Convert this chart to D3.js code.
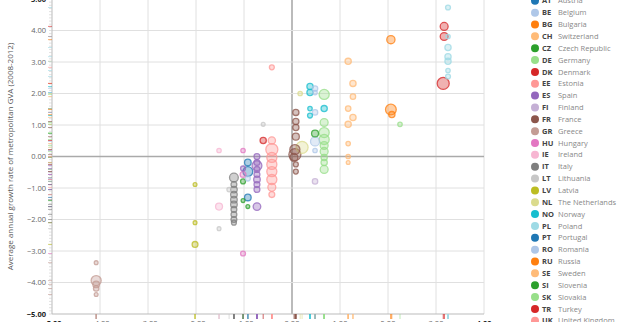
<!DOCTYPE html>
<html>
<head>
<meta charset="utf-8">
<script src="https://cdn.jsdelivr.net/npm/d3@7"></script>
<style>
  body { margin: 0; background: #fff; }
  text { font-family: "Open Sans", sans-serif; }
</style>
</head>
<body>
<div id="chart"></div>
<script>
// country codes, names (legend order)
var codes = ["AT","BE","BG","CH","CZ","DE","DK","EE","ES","FI","FR","GR","HU","IE",
  "IT","LT","LV","NL","NO","PL","PT","RO","RU","SE","SI","SK","TR","UK"];
var names = ["Austria","Belgium","Bulgaria","Switzerland","Czech Republic","Germany",
  "Denmark","Estonia","Spain","Finland","France","Greece","Hungary","Ireland","Italy",
  "Lithuania","Latvia","The Netherlands","Norway","Poland","Portugal","Romania","Russia",
  "Sweden","Slovenia","Slovakia","Turkey","United Kingdom"];

// x ticks / y ticks
var xTicks = [-5, -4, -3, -2, -1, 0, 1, 2, 3, 4];
var yTicks = [-5, -4, -3, -2, -1, 0, 1, 2, 3, 4, 5];

// metro regions: [country, x growth, GVA growth, population (m)]
var metros = [
  ["GR", -4.08, -3.37, 0.3], ["GR", -4.08, -3.94, 2.1], ["GR", -4.08, -4.06, 0.9],
  ["GR", -4.08, -4.19, 0.6], ["GR", -4.08, -4.38, 0.3],
  ["LV", -2.02, -0.89, 0.3], ["LV", -2.02, -2.10, 0.3], ["LV", -2.02, -2.79, 0.7],
  ["IE", -1.52, 0.19, 0.4], ["IE", -1.52, -1.59, 1.0], ["LT", -1.52, -2.29, 0.3],
  ["LT", -1.31, -1.05, 0.4], ["LT", -0.60, 1.02, 0.3],
  ["IT", -1.21, -0.67, 1.6], ["IT", -1.21, -0.89, 0.7], ["IT", -1.21, -1.05, 0.9],
  ["IT", -1.21, -1.21, 0.9], ["IT", -1.21, -1.37, 0.9], ["IT", -1.21, -1.52, 0.9],
  ["IT", -1.21, -1.68, 0.7], ["IT", -1.21, -1.84, 0.7], ["IT", -1.21, -2.00, 0.7],
  ["IT", -1.21, -2.10, 0.5],
  ["HU", -1.02, 0.19, 0.4], ["HU", -1.02, -0.57, 0.7], ["HU", -1.02, -3.08, 0.5],
  ["ES", -1.02, -0.38, 0.5],
  ["SI", -1.02, -0.79, 0.5], ["SI", -1.02, -1.40, 0.3], ["SI", -0.92, -1.59, 0.3],
  ["PT", -0.92, -0.19, 0.9], ["PT", -0.92, -0.48, 2.0], ["PT", -0.92, -1.30, 0.9],
  ["RO", -0.92, -0.70, 0.5],
  ["ES", -0.73, 0.00, 0.7], ["ES", -0.73, -0.19, 0.7], ["ES", -0.73, -0.29, 2.0],
  ["ES", -0.73, -0.41, 0.7], ["ES", -0.73, -0.57, 0.7], ["ES", -0.73, -0.73, 0.9],
  ["ES", -0.73, -0.89, 0.7], ["ES", -0.73, -1.05, 0.7], ["ES", -0.73, -1.59, 1.2],
  ["UK", -0.42, 2.83, 0.5], ["UK", -0.42, 0.51, 1.1], ["UK", -0.42, 0.22, 3.0],
  ["UK", -0.42, -0.03, 2.1], ["UK", -0.42, -0.25, 2.1], ["UK", -0.42, -0.48, 2.1],
  ["UK", -0.42, -0.73, 2.1], ["UK", -0.42, -0.98, 1.3], ["UK", -0.42, -1.21, 0.7],
  ["DK", -0.60, 0.51, 0.8],
  ["FR", 0.08, 1.40, 0.8], ["FR", 0.08, 1.11, 0.8], ["FR", 0.08, 0.92, 0.8],
  ["FR", 0.08, 0.63, 1.0], ["FR", 0.06, 0.22, 2.1], ["FR", 0.06, 0.06, 3.0],
  ["FR", 0.04, -0.03, 1.3], ["FR", 0.08, -0.25, 0.5], ["FR", 0.08, -0.48, 0.5],
  ["NL", 0.17, 2.00, 0.4], ["NL", 0.21, 0.29, 3.0],
  ["NO", 0.375, 2.22, 0.8], ["NO", 0.375, 2.03, 0.8], ["NO", 0.375, 1.52, 0.4],
  ["NO", 0.375, 1.30, 0.5], ["NO", 0.67, 1.52, 0.8],
  ["BE", 0.48, 2.16, 0.6], ["BE", 0.48, 2.03, 0.4], ["BE", 0.48, 1.40, 0.6],
  ["BE", 0.48, 0.48, 1.7], ["BE", 0.48, 0.19, 0.4],
  ["CZ", 0.48, 0.73, 1.0], ["FI", 0.48, -0.79, 0.6],
  ["DE", 0.67, 1.97, 2.1], ["DE", 0.67, 1.08, 1.3], ["DE", 0.67, 0.76, 2.1],
  ["DE", 0.67, 0.54, 2.1], ["DE", 0.67, 0.35, 1.3], ["DE", 0.67, 0.16, 1.3],
  ["DE", 0.67, -0.03, 0.8], ["DE", 0.67, -0.19, 0.8], ["DE", 0.67, -0.41, 1.3],
  ["SE", 1.17, 3.02, 0.8], ["SE", 1.17, 1.52, 0.6], ["SE", 1.17, 1.02, 0.8],
  ["SE", 1.17, 0.41, 0.4],
  ["CH", 1.27, 2.32, 0.8], ["CH", 1.27, 1.90, 0.6], ["CH", 1.27, 1.24, 0.8],
  ["CH", 1.17, 0.00, 0.4], ["CH", 1.17, -0.19, 0.3],
  ["RU", 2.06, 3.71, 1.4], ["RU", 2.06, 1.49, 2.4], ["RU", 2.08, 1.33, 0.8],
  ["SK", 2.25, 1.02, 0.4],
  ["TR", 3.17, 4.13, 1.3], ["TR", 3.17, 3.81, 1.3], ["TR", 3.15, 2.32, 3.0],
  ["PL", 3.25, 4.73, 0.5], ["PL", 3.25, 3.81, 0.4], ["PL", 3.25, 3.46, 0.8],
  ["PL", 3.25, 3.17, 0.8], ["PL", 3.25, 3.02, 0.8], ["PL", 3.25, 2.73, 0.4],
  ["PL", 3.25, 2.54, 0.5]
];

var W = 620, H = 322;
var plot = { left: 52, right: 484, top: -1, bottom: 314 };

var svg = d3.select("#chart").append("svg")
  .attr("width", W).attr("height", H);

var x = d3.scaleLinear().domain([-5, 4]).range([plot.left, plot.right]);
var y = d3.scaleLinear().domain([-5, 5]).range([plot.bottom, plot.top]);
var r = d3.scaleSqrt().domain([0, 3]).range([0, 6]);

// category20 colours, repeated after 20 countries
var cat20 = ["#1f77b4","#aec7e8","#ff7f0e","#ffbb78","#2ca02c","#98df8a","#d62728",
  "#ff9896","#9467bd","#c5b0d5","#8c564b","#c49c94","#e377c2","#f7b6d2","#7f7f7f",
  "#c7c7c7","#bcbd22","#dbdb8d","#17becf","#9edae5"];
var color = d3.scaleOrdinal().domain(codes).range(cat20);

// grid
svg.append("g").selectAll("line").data(xTicks.slice(1)).enter().append("line")
  .attr("x1", function (d) { return x(d); }).attr("x2", function (d) { return x(d); })
  .attr("y1", plot.top).attr("y2", plot.bottom)
  .attr("stroke", function (d) { return d === 0 ? "#aaa" : "#e0e0e0"; })
  .attr("stroke-width", function (d) { return d === 0 ? 1.6 : 1; });
svg.append("g").selectAll("line").data(yTicks.slice(1)).enter().append("line")
  .attr("y1", function (d) { return y(d); }).attr("y2", function (d) { return y(d); })
  .attr("x1", plot.left).attr("x2", plot.right)
  .attr("stroke", function (d) { return d === 0 ? "#aaa" : "#e0e0e0"; })
  .attr("stroke-width", function (d) { return d === 0 ? 1.6 : 1; });

// axis lines
svg.append("line").attr("x1", plot.left).attr("x2", plot.left)
  .attr("y1", plot.top).attr("y2", plot.bottom).attr("stroke", "#bbb");
svg.append("line").attr("x1", plot.left).attr("x2", plot.right)
  .attr("y1", plot.bottom).attr("y2", plot.bottom).attr("stroke", "#bbb");

// minor ticks on y axis
svg.append("g").selectAll("line").data(d3.range(-50, 51)).enter().append("line")
  .attr("x1", plot.left - 3).attr("x2", plot.left)
  .attr("y1", function (d) { return y(d / 10); }).attr("y2", function (d) { return y(d / 10); })
  .attr("stroke", "#ccc").attr("stroke-width", 0.6);

// rugs
svg.append("g").selectAll("line").data(metros).enter().append("line")
  .attr("x1", plot.left - 4).attr("x2", plot.left)
  .attr("y1", function (d) { return y(d[2]); }).attr("y2", function (d) { return y(d[2]); })
  .attr("stroke", function (d) { return color(d[0]); }).attr("opacity", 0.6);
svg.append("g").selectAll("line").data(metros).enter().append("line")
  .attr("y1", plot.bottom).attr("y2", plot.bottom + 5)
  .attr("x1", function (d) { return x(d[1]); }).attr("x2", function (d) { return x(d[1]); })
  .attr("stroke", function (d) { return color(d[0]); }).attr("opacity", 0.6);

// tick labels
svg.append("g").selectAll("text").data(yTicks).enter().append("text")
  .attr("x", plot.left - 6).attr("y", function (d) { return y(d); })
  .attr("dy", "0.35em").attr("text-anchor", "end")
  .style("font-size", "7.5px")
  .style("font-weight", function (d) { return Math.abs(d) === 5 ? "bold" : "normal"; })
  .attr("fill", function (d) { return Math.abs(d) === 5 ? "#222" : "#666"; })
  .text(function (d) { return d3.format(".2f")(d); });
svg.append("g").selectAll("text").data(xTicks).enter().append("text")
  .attr("x", function (d) { return x(d); }).attr("y", plot.bottom + 12)
  .attr("text-anchor", "middle")
  .style("font-size", "7.5px")
  .style("font-weight", function (d) { return d === -5 || d === 4 ? "bold" : "normal"; })
  .attr("fill", function (d) { return d === -5 || d === 4 ? "#222" : "#666"; })
  .text(function (d) { return d3.format(".2f")(d); });

svg.append("text")
  .attr("transform", "translate(13," + y(0) + ") rotate(-90)")
  .attr("text-anchor", "middle")
  .style("font-size", "8px").attr("fill", "#555")
  .text("Average annual growth rate of metropolitan GVA (2008-2012)");

// points, big ones first
svg.append("g").selectAll("circle")
  .data(metros.slice().sort(function (a, b) { return b[3] - a[3]; }))
  .enter().append("circle")
  .attr("cx", function (d) { return x(d[1]); })
  .attr("cy", function (d) { return y(d[2]); })
  .attr("r", function (d) { return r(d[3]); })
  .attr("fill", function (d) { return color(d[0]); })
  .attr("fill-opacity", 0.45)
  .attr("stroke", function (d) { return color(d[0]); })
  .attr("stroke-width", 1.3)
  .attr("opacity", 0.8);

// legend
var legend = svg.append("g").selectAll("g").data(codes).enter().append("g")
  .attr("transform", function (d, i) { return "translate(535," + (0.8 + i * 11.85) + ")"; });
legend.append("circle").attr("r", 4).attr("fill", function (d) { return color(d); });
legend.append("text").attr("x", 7).attr("dy", "0.35em")
  .style("font-size", "7.5px").style("font-weight", "bold").attr("fill", "#444")
  .text(function (d) { return d; });
legend.append("text").attr("x", 23).attr("dy", "0.35em")
  .style("font-size", "7.5px").attr("fill", "#888")
  .text(function (d, i) { return names[i]; });
</script>
</body>
</html>
